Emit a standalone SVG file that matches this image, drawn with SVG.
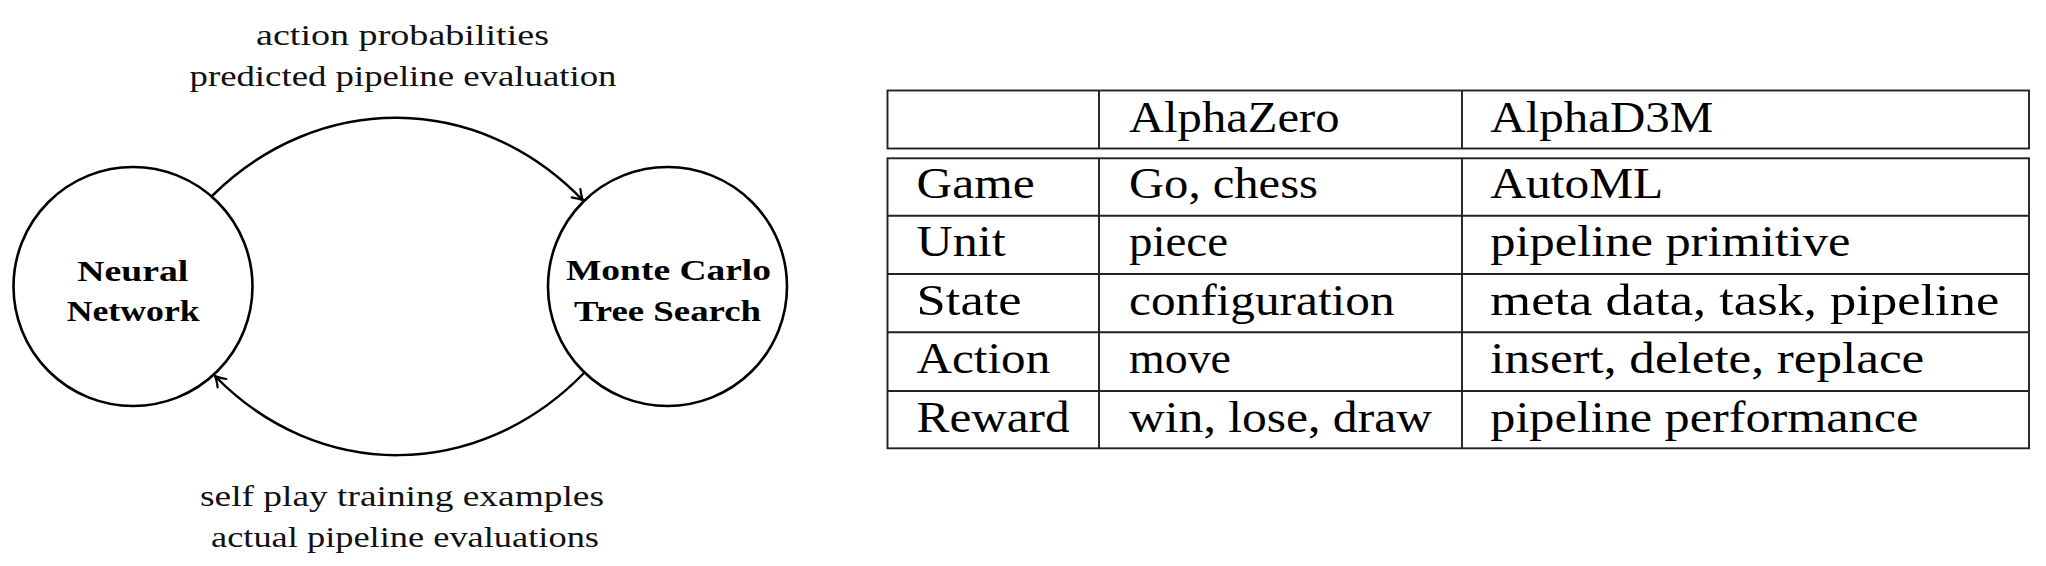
<svg xmlns="http://www.w3.org/2000/svg" width="2046" height="566" viewBox="0 0 2046 566">
<defs>
<marker id="arr" markerUnits="userSpaceOnUse" markerWidth="16" markerHeight="16" viewBox="-12 -8 16 16" refX="0" refY="0" orient="auto">
<path d="M -10,-6 Q -4,-1.5 0,0 Q -4,1.5 -10,6" fill="none" stroke="#000" stroke-width="2.2" stroke-linecap="round" stroke-linejoin="round"/>
</marker>
</defs>
<style>
.node circle{fill:#fff;stroke:#000;stroke-width:2.6}
.nl{font-weight:bold;font-size:30px;fill:#000}
.el{font-size:30px;fill:#111}
.edge{fill:none;stroke:#000;stroke-width:2.5}
.tl{fill:none;stroke:#222;stroke-width:1.9}
.tt{font-size:44px;fill:#000}
</style>
<rect width="2046" height="566" fill="#fff"/>
<g id="connectors">
<path class="edge" d="M 212,196 C 318,91 478,91 583,200.5" marker-end="url(#arr)"/>
<path class="edge" d="M 584,373 C 478,482 318,482 215,376" marker-end="url(#arr)"/>
</g>
<g id="edge-labels" font-family="Liberation Serif, Times New Roman, serif">
<text class="el" x="256" y="45" textLength="293" lengthAdjust="spacingAndGlyphs">action probabilities</text>
<text class="el" x="189.5" y="86" textLength="427" lengthAdjust="spacingAndGlyphs">predicted pipeline evaluation</text>
<text class="el" x="200" y="506" textLength="404" lengthAdjust="spacingAndGlyphs">self play training examples</text>
<text class="el" x="211" y="547" textLength="388" lengthAdjust="spacingAndGlyphs">actual pipeline evaluations</text>
</g>
<g id="neural-network" class="node" font-family="Liberation Serif, Times New Roman, serif">
<circle cx="133" cy="286.5" r="119.5"/>
<text class="nl" x="77.3" y="280.5" textLength="111" lengthAdjust="spacingAndGlyphs">Neural</text>
<text class="nl" x="66.7" y="321" textLength="133" lengthAdjust="spacingAndGlyphs">Network</text>
</g>
<g id="mcts" class="node" font-family="Liberation Serif, Times New Roman, serif">
<circle cx="667.5" cy="286.5" r="119.5"/>
<text class="nl" x="566" y="280" textLength="205" lengthAdjust="spacingAndGlyphs">Monte Carlo</text>
<text class="nl" x="574" y="321" textLength="187" lengthAdjust="spacingAndGlyphs">Tree Search</text>
</g>
<g id="table" font-family="Liberation Serif, Times New Roman, serif">
<rect class="tl" x="887.5" y="90.5" width="1141.5" height="58"/>
<rect class="tl" x="887.5" y="158.3" width="1141.5" height="290"/>
<path class="tl" d="M 1099,90.5 V 148.5 M 1462,90.5 V 148.5 M 1099,158.3 V 448.3 M 1462,158.3 V 448.3 M 887.5,215.7 H 2029 M 887.5,274 H 2029 M 887.5,332.3 H 2029 M 887.5,391 H 2029"/>
<text class="tt" x="1129" y="131.7" textLength="210.5" lengthAdjust="spacingAndGlyphs">AlphaZero</text>
<text class="tt" x="1490.3" y="131.7" textLength="223" lengthAdjust="spacingAndGlyphs">AlphaD3M</text>
<text class="tt" x="916.6" y="198.3" textLength="118" lengthAdjust="spacingAndGlyphs">Game</text>
<text class="tt" x="1129" y="198.3" textLength="189" lengthAdjust="spacingAndGlyphs">Go, chess</text>
<text class="tt" x="1490.3" y="198.3" textLength="173" lengthAdjust="spacingAndGlyphs">AutoML</text>
<text class="tt" x="916.6" y="256" textLength="89" lengthAdjust="spacingAndGlyphs">Unit</text>
<text class="tt" x="1129" y="256" textLength="99" lengthAdjust="spacingAndGlyphs">piece</text>
<text class="tt" x="1490.3" y="256" textLength="360" lengthAdjust="spacingAndGlyphs">pipeline primitive</text>
<text class="tt" x="916.6" y="315" textLength="105" lengthAdjust="spacingAndGlyphs">State</text>
<text class="tt" x="1129" y="315" textLength="265.6" lengthAdjust="spacingAndGlyphs">configuration</text>
<text class="tt" x="1490.3" y="315" textLength="509" lengthAdjust="spacingAndGlyphs">meta data, task, pipeline</text>
<text class="tt" x="916.6" y="372.7" textLength="133.6" lengthAdjust="spacingAndGlyphs">Action</text>
<text class="tt" x="1129" y="372.7" textLength="102" lengthAdjust="spacingAndGlyphs">move</text>
<text class="tt" x="1490.3" y="372.7" textLength="434" lengthAdjust="spacingAndGlyphs">insert, delete, replace</text>
<text class="tt" x="916.6" y="431.5" textLength="153" lengthAdjust="spacingAndGlyphs">Reward</text>
<text class="tt" x="1129" y="431.5" textLength="303" lengthAdjust="spacingAndGlyphs">win, lose, draw</text>
<text class="tt" x="1490.3" y="431.5" textLength="428" lengthAdjust="spacingAndGlyphs">pipeline performance</text>
</g>
</svg>
